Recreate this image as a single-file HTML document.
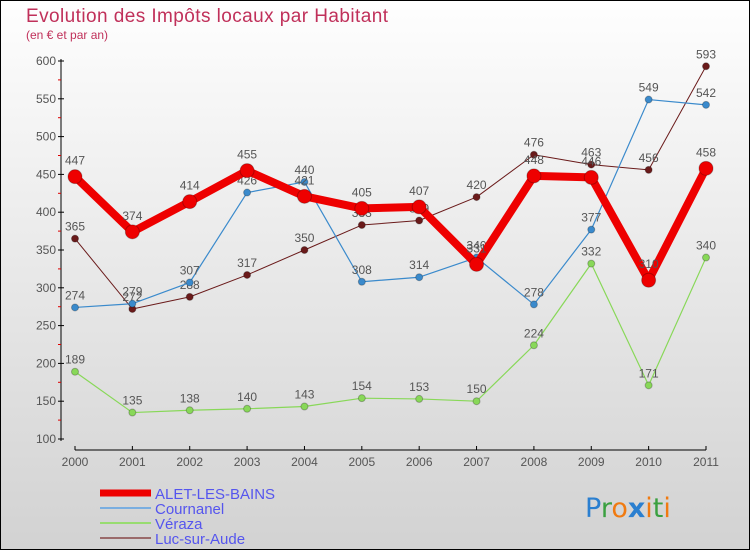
<!DOCTYPE html>
<html><head><meta charset="utf-8"><style>
body{margin:0;width:750px;height:550px;overflow:hidden;font-family:"Liberation Sans",sans-serif}
</style></head><body>
<svg id="c" width="750" height="550" xmlns="http://www.w3.org/2000/svg">
<defs><linearGradient id="bg" x1="0" y1="0" x2="0" y2="1"><stop offset="0" stop-color="#fefefe"/><stop offset="1" stop-color="#d2d2d2"/></linearGradient></defs>
<rect x="0.5" y="0.5" width="749" height="549" fill="url(#bg)" stroke="#000"/>
<text x="26" y="22" font-size="19" textLength="362" fill="#c0305a">Evolution des Impôts locaux par Habitant</text>
<text x="26" y="39" font-size="12" fill="#c0305a">(en € et par an)</text>
<g id="axes"></g><g id="series"></g><g id="legend"></g>
<text x="585" y="517" font-size="27" font-family="DejaVu Sans"><tspan fill="#2a7fd0">P</tspan><tspan fill="#3aa040">r</tspan><tspan fill="#f07a10">o</tspan><tspan fill="#2a7fd0" font-weight="bold">x</tspan><tspan fill="#f07a10">i</tspan><tspan fill="#3aa040">t</tspan><tspan fill="#f07a10">i</tspan></text>
</svg>
<script>
const years=["2000","2001","2002","2003","2004","2005","2006","2007","2008","2009","2010","2011"];
const yTicks=[100,150,200,250,300,350,400,450,500,550,600];
const alet=[447,374,414,455,421,405,407,331,448,446,310,458];
const cournanel=[274,279,307,426,440,308,314,340,278,377,549,542];
const veraza=[189,135,138,140,143,154,153,150,224,332,171,340];
const luc=[365,272,288,317,350,383,389,420,476,463,456,593];
const NS="http://www.w3.org/2000/svg";
const X=i=>75+i*(706-75)/11;
const Y=v=>61+(600-v)*(439-61)/500;
function el(t,a,p){const e=document.createElementNS(NS,t);for(const k in a)e.setAttribute(k,a[k]);p.appendChild(e);return e;}
const ax=document.getElementById('axes');
let l=el('line',{x1:61,y1:59,x2:61,y2:441,stroke:'#000','stroke-width':1},ax);


for(let v=125;v<600;v+=50){el('line',{x1:58,y1:Y(v),x2:61,y2:Y(v),stroke:'#d00'},ax);}
yTicks.forEach(v=>{el('line',{x1:58,y1:Y(v),x2:64,y2:Y(v),stroke:'#000'},ax);
const t=el('text',{x:56,y:Y(v)+4,'font-size':12,fill:'#555','text-anchor':'end'},ax);t.textContent=v;

});
l=el('line',{x1:75,y1:450,x2:706,y2:450,stroke:'#000'},ax);


years.forEach((y,i)=>{el('line',{x1:X(i),y1:446,x2:X(i),y2:450,stroke:'#000'},ax);
const t=el('text',{x:X(i),y:466,'font-size':12,fill:'#555','text-anchor':'middle'},ax);t.textContent=y;

});
const sg=document.getElementById('series');
function draw(data,color,w,r,name){
const g=el('g',{},sg);


el('polyline',{points:data.map((v,i)=>X(i)+','+Y(v)).join(' '),fill:'none',stroke:color,'stroke-width':w,'stroke-linejoin':'round'},g);
data.forEach((v,i)=>{const c=el('circle',{cx:X(i),cy:Y(v),r:r,fill:color,stroke:'rgba(0,0,0,0.25)'},g);


const t=el('text',{x:X(i),y:Y(v)-8-(r>5?4:0),'font-size':12,fill:'#555','text-anchor':'middle'},g);t.textContent=v;

});
}
draw(luc,'#6a1a1a',1,3.5,'luc-sur-aude-series');
draw(veraza,'#88d858',1.2,3.5,'veraza-series');
draw(cournanel,'#3a8acc',1.2,3.5,'cournanel-series');
draw(alet,'#ee0000',8,7,'alet-les-bains-series');
const lg=document.getElementById('legend');
[['ALET-LES-BAINS','#ee0000',7],['Cournanel','#7aaee0',2],['Véraza','#98dc70',2],['Luc-sur-Aude','#9a6a6a',2]].forEach((s,i)=>{
const y=493+i*15;
const g=el('g',{},lg);


el('line',{x1:100,y1:y,x2:151,y2:y,stroke:s[1],'stroke-width':s[2]},g);
const t=el('text',{x:155,y:y+6,'font-size':15,fill:'#5555ee'},g);t.textContent=s[0];});
</script>
</body></html>
